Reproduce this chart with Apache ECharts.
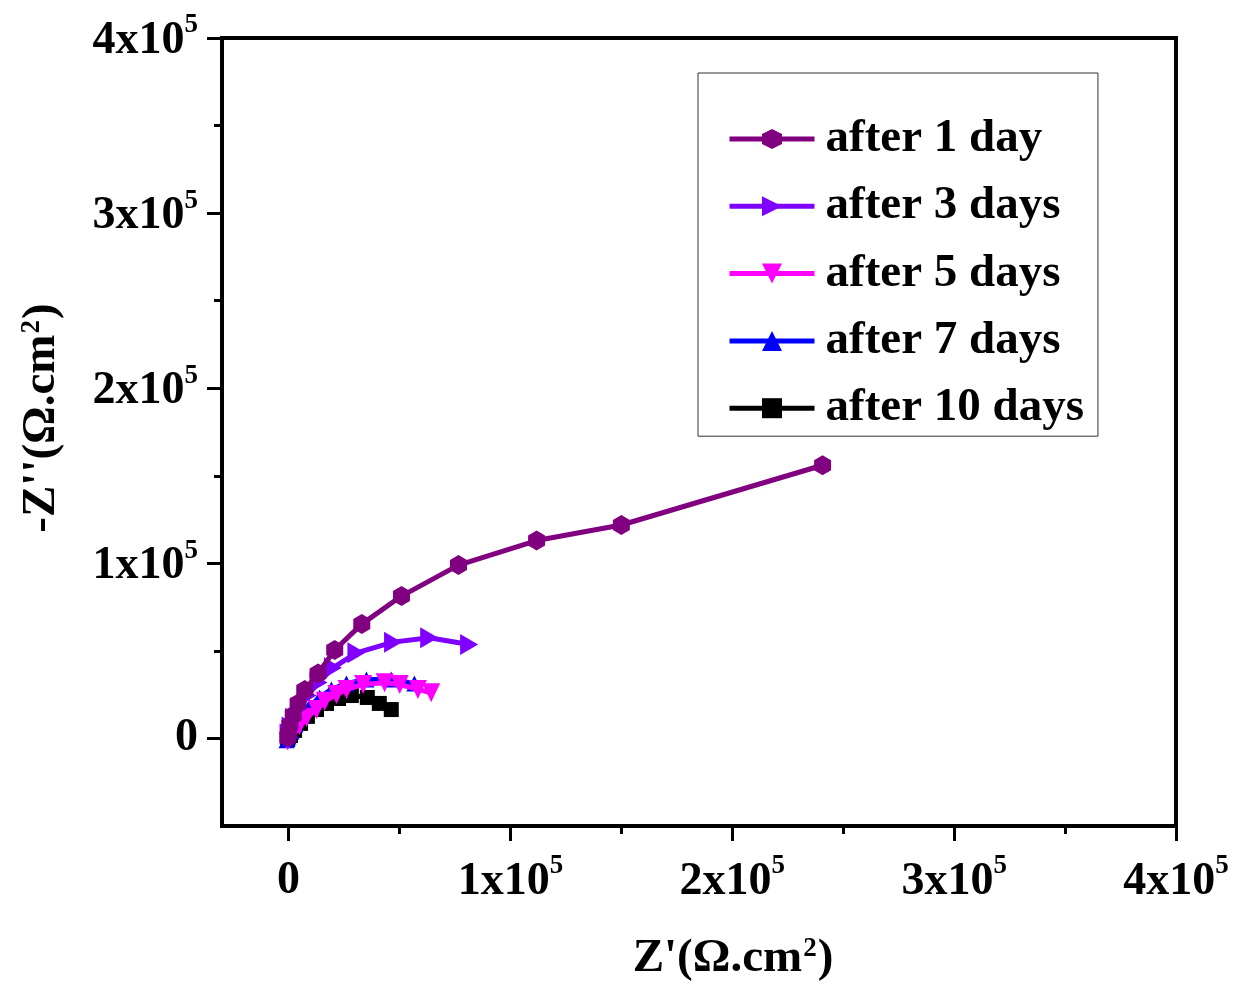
<!DOCTYPE html>
<html>
<head>
<meta charset="utf-8">
<script src="https://cdn.jsdelivr.net/npm/echarts@6/dist/echarts.min.js"></script>
<style>html,body{margin:0;padding:0;background:#fff;}#chart{width:1249px;height:987px;}</style>
</head>
<body>
<div id="chart"></div>
<script>
// ---- data (Z', -Z'') in Ω·cm² ----
const seriesNames = ['after 1 day', 'after 3 days', 'after 5 days', 'after 7 days', 'after 10 days'];
const day1 = [[240700,156000],[150000,121900],[111800,113000],[76600,99000],[50900,81300],[33000,65300],[20800,50500],[13300,37100],[7300,27600],[4300,20000],[2100,13300],[600,7600],[0,2900],[-300,500]];
const day3 = [[81400,53600],[63400,57500],[47100,55000],[30600,48900],[20000,40300],[13500,32000],[8600,24500],[5000,17500],[2500,11500],[900,6500],[0,2500]];
const day5 = [[64300,26100],[58300,28000],[50100,30800],[43300,31800],[33600,30800],[26100,28000],[21600,25100],[16300,21300],[12600,16500],[8100,12000],[4900,7400],[2200,3400],[400,600],[-400,-1500]];
const day7 = [[56700,31400],[46300,33700],[35100,33700],[26100,31400],[19300,28000],[14000,23400],[9400,18300],[5800,13100],[3100,8000],[1300,4000],[0,1100],[-900,-1100]];
const day10 = [[46300,16500],[40900,20000],[35500,23400],[28300,24500],[22500,22800],[17100,20000],[12600,16500],[8500,12600],[5400,8600],[2700,4600],[900,1700],[-400,-600]];
const majorTicks = [0, 100000, 200000, 300000, 400000];
const minorTicksX = [50000, 150000, 250000, 350000];
const minorTicksY = [50000, 150000, 250000, 350000];

const FONT = 'Liberation Serif';
const colors = ['#800080', '#8000FF', '#FF00FF', '#0000FF', '#000000'];
const hexagon = 'path://M0,-1L0.866,-0.5L0.866,0.5L0,1L-0.866,0.5L-0.866,-0.5Z';
const triRight = 'path://M0,0L1,0.5L0,1Z';
const triDown = 'path://M0,0L1,0L0.5,1Z';

function sciLabel(v) {
  if (v === 0) return '{z|0}';
  return '{h|\u200b}{b|' + Math.round(v / 1e5) + 'x10}{s|5}';
}
const labelRich = {
  z: {fontFamily: FONT, fontWeight: 'bold', fontSize: 46, lineHeight: 56, color: '#000'},
  h: {fontFamily: FONT, fontSize: 10, lineHeight: 52, width: 0, color: 'rgba(0,0,0,0)'},
  b: {fontFamily: FONT, fontWeight: 'bold', fontSize: 46, lineHeight: 46, color: '#000', verticalAlign: 'bottom'},
  s: {fontFamily: FONT, fontWeight: 'bold', fontSize: 27, lineHeight: 27, color: '#000', verticalAlign: 'top'}
};

const chart = echarts.init(document.getElementById('chart'), null, {renderer: 'canvas'});

function mkSeries(name, data, symbol, size, color, z) {
  return {
    name: name, type: 'line', data: data, symbol: symbol, symbolSize: size,
    showAllSymbol: true, clip: false, z: z,
    lineStyle: {width: 5, color: color},
    itemStyle: {color: color, borderWidth: 0}
  };
}

const option = {
  animation: false,
  backgroundColor: '#ffffff',
  grid: {left: 222, right: 73, top: 38, bottom: 161, show: true, borderColor: '#000', borderWidth: 4, backgroundColor: 'transparent'},
  xAxis: [
    {
      type: 'value', min: -30000, max: 400000, position: 'bottom',
      axisLine: {show: true, onZero: false, lineStyle: {color: '#000', width: 4}},
      axisTick: {show: true, customValues: majorTicks, length: 15, inside: false, lineStyle: {color: '#000', width: 3}},
      axisLabel: {show: true, customValues: majorTicks, margin: 27, formatter: sciLabel, rich: labelRich, color: '#000'},
      splitLine: {show: false}
    },
    {
      type: 'value', min: -30000, max: 400000, position: 'bottom',
      axisLine: {show: false, onZero: false},
      axisTick: {show: true, customValues: minorTicksX, length: 8, lineStyle: {color: '#000', width: 3}},
      axisLabel: {show: false},
      splitLine: {show: false}
    }
  ],
  yAxis: [
    {
      type: 'value', min: -50000, max: 400000, position: 'left',
      axisLine: {show: true, onZero: false, lineStyle: {color: '#000', width: 4}},
      axisTick: {show: true, customValues: majorTicks, length: 15, lineStyle: {color: '#000', width: 3}},
      axisLabel: {show: true, customValues: majorTicks, margin: 24, formatter: sciLabel, rich: labelRich, color: '#000'},
      splitLine: {show: false}
    },
    {
      type: 'value', min: -50000, max: 400000, position: 'left',
      axisLine: {show: false, onZero: false},
      axisTick: {show: true, customValues: minorTicksY, length: 8, lineStyle: {color: '#000', width: 3}},
      axisLabel: {show: false},
      splitLine: {show: false}
    }
  ],
  legend: {
    orient: 'vertical', left: 698, top: 73,
    padding: [41, 14, 3, 29],
    itemWidth: 85, itemHeight: 25, itemGap: 17.3,
    borderColor: '#333', borderWidth: 1, backgroundColor: '#fff',
    selectedMode: false,
    lineStyle: {width: 5},
    textStyle: {fontFamily: FONT, fontWeight: 'bold', fontSize: 47, lineHeight: 50, color: '#000', padding: [0, 0, 0, 6]},
    data: seriesNames
  },
  series: [
    mkSeries(seriesNames[4], day10, 'rect', 15, colors[4], 2),
    mkSeries(seriesNames[3], day7, 'triangle', 16, colors[3], 3),
    mkSeries(seriesNames[2], day5, triDown, [18, 19], colors[2], 4),
    mkSeries(seriesNames[1], day3, triRight, [18, 21], colors[1], 5),
    mkSeries(seriesNames[0], day1, hexagon, [17, 20], colors[0], 6)
  ],
  graphic: [
    {
      type: 'text', x: 733, y: 957,
      style: {
        text: "{t|Z'(Ω.cm}{s|2}{t|)}",
        align: 'center', verticalAlign: 'middle',
        rich: {
          t: {fontFamily: FONT, fontWeight: 'bold', fontSize: 47, lineHeight: 50, fill: '#000', verticalAlign: 'bottom'},
          s: {fontFamily: FONT, fontWeight: 'bold', fontSize: 27, lineHeight: 27, fill: '#000', verticalAlign: 'top', padding: [4, 1, 25, 1]}
        }
      }
    },
    {
      type: 'text', x: 40, y: 418, rotation: Math.PI / 2,
      style: {
        text: "{t|-Z''(Ω.cm}{s|2}{t|)}",
        align: 'center', verticalAlign: 'middle',
        rich: {
          t: {fontFamily: FONT, fontWeight: 'bold', fontSize: 47, lineHeight: 50, fill: '#000', verticalAlign: 'bottom'},
          s: {fontFamily: FONT, fontWeight: 'bold', fontSize: 27, lineHeight: 27, fill: '#000', verticalAlign: 'top', padding: [4, 1, 25, 1]}
        }
      }
    }
  ]
};
chart.setOption(option);
</script>
</body>
</html>
